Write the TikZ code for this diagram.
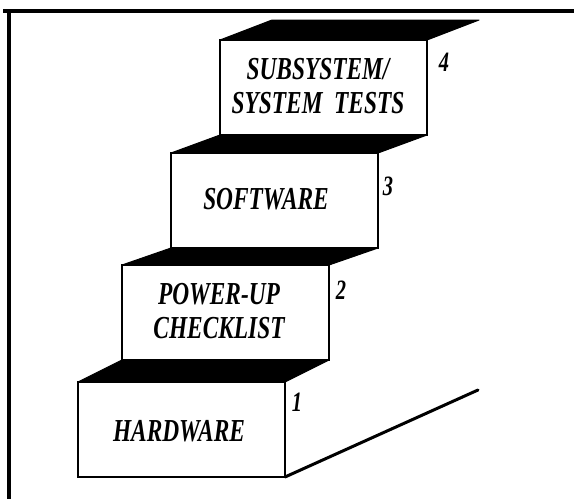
\documentclass[tikz,border=0pt]{standalone}
\usepackage{fontspec}
\setmainfont{Liberation Serif}
\newfontfamily\labfont[FakeStretch=0.73]{Liberation Serif}
\begin{document}
\begin{tikzpicture}[x=1pt,y=-1pt,
  frameline/.style={line width=3.5pt},
  front/.style={draw, line width=2.2pt, fill=white, minimum width=207pt, minimum height=95pt, anchor=north west, inner sep=0pt, outer sep=0pt},
  topface/.style={fill=black, draw=black, line width=1pt, line join=round},
  lab/.style={font=\labfont\bfseries\itshape\fontsize{32}{34}\selectfont, align=center, inner sep=0pt},
  num/.style={font=\labfont\bfseries\itshape\fontsize{28}{30}\selectfont, inner sep=0pt}
]
\useasboundingbox (0,0) rectangle (574,499);
% frame
\draw[frameline] (3,11) -- (574,11);
\draw[frameline] (9,11) -- (9,499);

% top faces (black)
\fill[topface] (220,40) -- (427,40) -- (479,20) -- (272,20) -- cycle;
\fill[topface] (171,153) -- (378,153) -- (427,135) -- (220,135) -- cycle;
\fill[topface] (122,265) -- (329,265) -- (378,248) -- (171,248) -- cycle;
\fill[topface] (78,382) -- (285,382) -- (329,360) -- (122,360) -- cycle;

% box fronts
\node[front] (b1) at (78,382) {};
\node[front] (b2) at (122,265) {};
\node[front] (b3) at (171,153) {};
\node[front] (b4) at (220,40) {};

% ground line
\coordinate (g) at (478,390);
\draw[line width=3pt, line cap=round] (b1.south east) -- (g);

% labels
\node[lab] (t4) at (318,86) {SUBSYSTEM/\\SYSTEM\ \ TESTS};
\node[lab] (t3) at (266,199) {SOFTWARE};
\node[lab] (t2) at (219,311) {POWER-UP\\CHECKLIST};
\node[lab] (t1) at (179,431) {HARDWARE};

% numbers
\node[num] (n4) at (444,62) {4};
\node[num] (n3) at (388,186) {3};
\node[num] (n2) at (341,290) {2};
\node[num] (n1) at (297,402) {1};
\end{tikzpicture}
\end{document}
